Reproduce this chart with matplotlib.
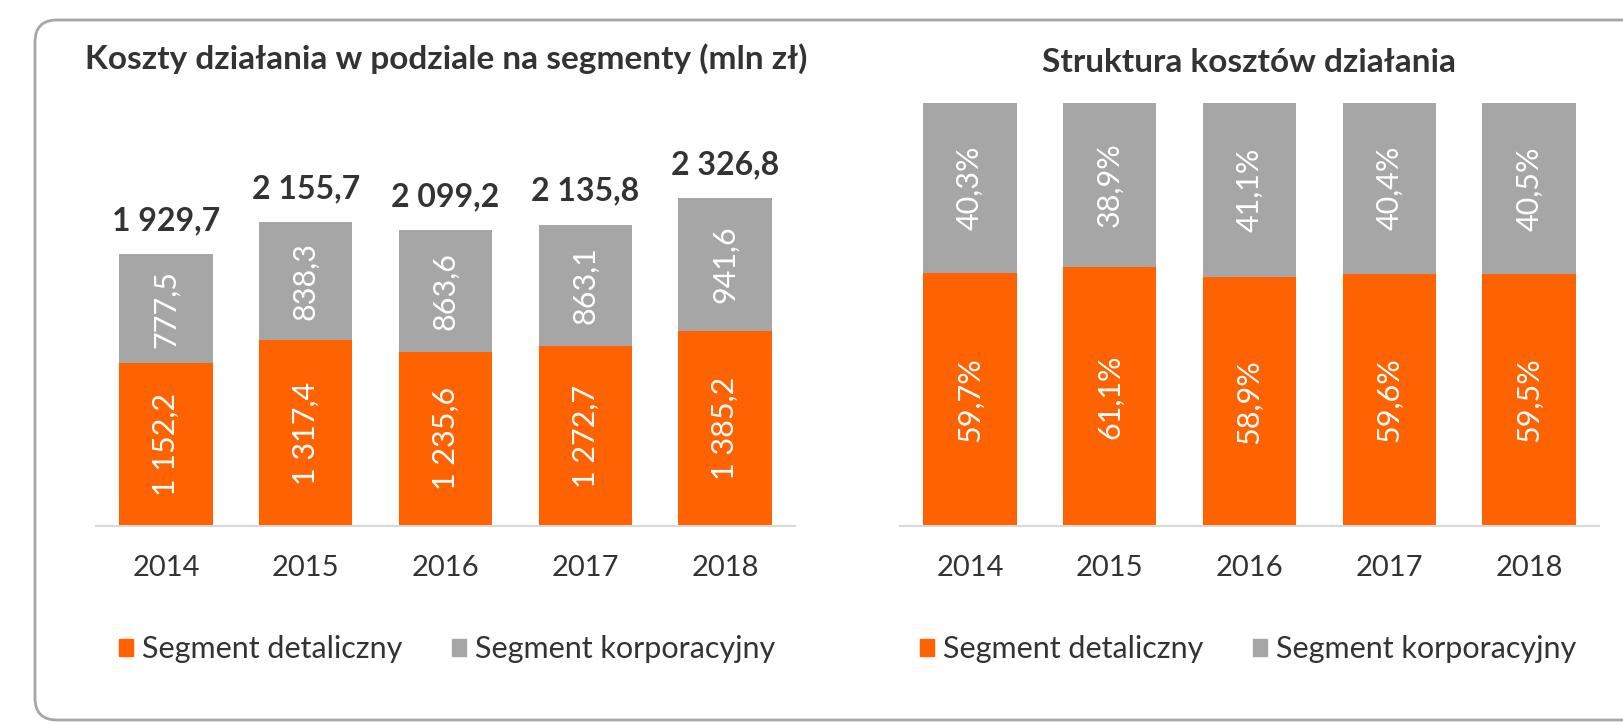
import numpy as np
import matplotlib
matplotlib.use('Agg')
import matplotlib.pyplot as plt
from matplotlib.patches import FancyBboxPatch, Patch
from matplotlib.transforms import IdentityTransform

# data
years = ['2014', '2015', '2016', '2017', '2018']
detal = [1152.2, 1317.4, 1235.6, 1272.7, 1385.2]    # mln zl, Segment detaliczny
korpo = [777.5, 838.3, 863.6, 863.1, 941.6]         # mln zl, Segment korporacyjny
totals = [1929.7, 2155.7, 2099.2, 2135.8, 2326.8]
share_detal = [59.7, 61.1, 58.9, 59.6, 59.5]        # %
share_korpo = [40.3, 38.9, 41.1, 40.4, 40.5]        # %

orange = '#ff6200'
grey = '#a6a6a6'
txt = '#333333'
plt.rcParams['font.family'] = ['Lato', 'DejaVu Sans']

def pl(v, fmt='{:,.1f}'):
    # polish number format: space thousands, comma decimal
    return fmt.format(v).replace(',', ' ').replace('.', ',')

fig = plt.figure(figsize=(16.23, 7.25), dpi=100)

# rounded frame around both charts (pixel coords)
frame = FancyBboxPatch((35, 5), 1650, 700, boxstyle='round,pad=0,rounding_size=22',
                       transform=IdentityTransform(), fc='none', ec='#a6a6a6', lw=2)
fig.patches.append(frame)

ax1 = fig.add_axes([96/1623, 199/725, 699/1623, 381/725])
ax2 = fig.add_axes([900/1623, 199/725, 699/1623, 423.5/725])

x = np.arange(len(years))
w = 0.667
fs_in = 22

# left chart: values
ax1.bar(x, detal, w, color=orange)
ax1.bar(x, korpo, w, bottom=detal, color=grey)
for i in range(len(years)):
    ax1.text(x[i], detal[i]/2, pl(detal[i]), rotation=90, ha='center', va='center',
             color='white', fontsize=fs_in)
    ax1.text(x[i], detal[i] + korpo[i]/2, pl(korpo[i]), rotation=90, ha='center',
             va='center', color='white', fontsize=fs_in)
    ax1.annotate(pl(totals[i]), (x[i], totals[i]), xytext=(0, 24), textcoords='offset points',
                 ha='center', va='center', fontsize=23, fontweight='bold', color=txt)
ax1.set_ylim(0, 2700)

# right chart: structure
d = np.array(share_detal) / 100
k = np.array(share_korpo) / 100
ax2.bar(x, d, w, color=orange)
ax2.bar(x, k, w, bottom=d, color=grey)
for i in range(len(years)):
    ax2.text(x[i], d[i]/2, '{:.1f}%'.format(share_detal[i]).replace('.', ','), rotation=90,
             ha='center', va='center', color='white', fontsize=fs_in)
    ax2.text(x[i], d[i] + k[i]/2, '{:.1f}%'.format(share_korpo[i]).replace('.', ','),
             rotation=90, ha='center', va='center', color='white', fontsize=fs_in)
ax2.set_ylim(0, 1)

for ax in (ax1, ax2):
    ax.set_xlim(-0.5, 4.5)
    ax.set_xticks(x)
    ax.set_xticklabels(years, fontsize=21, color=txt)
    ax.tick_params(axis='x', length=0, pad=21)
    ax.set_yticks([])
    for s in ['top', 'left', 'right']:
        ax.spines[s].set_visible(False)
    ax.spines['bottom'].set_color('#d9d9d9')
    ax.spines['bottom'].set_linewidth(1.5)
    ax.patch.set_alpha(0)

fig.text(446/1623, 1 - 59/725, 'Koszty działania w podziale na segmenty (mln zł)',
         ha='center', va='center', fontsize=24, fontweight='bold', color=txt)
fig.text(1249/1623, 1 - 62/725, 'Struktura kosztów działania',
         ha='center', va='center', fontsize=24, fontweight='bold', color=txt)

handles = [Patch(color=orange, label='Segment detaliczny'),
           Patch(color=grey, label='Segment korporacyjny')]
for cx in (447, 1248):
    leg = fig.legend(handles=handles, loc='center', bbox_to_anchor=(cx/1623, 1 - 649/725),
                     ncol=2, frameon=False, fontsize=22, handlelength=0.47, handleheight=0.47,
                     handletextpad=0.3, columnspacing=1.6)
    for t in leg.get_texts():
        t.set_color(txt)

fig.savefig('out.png', dpi=100)
